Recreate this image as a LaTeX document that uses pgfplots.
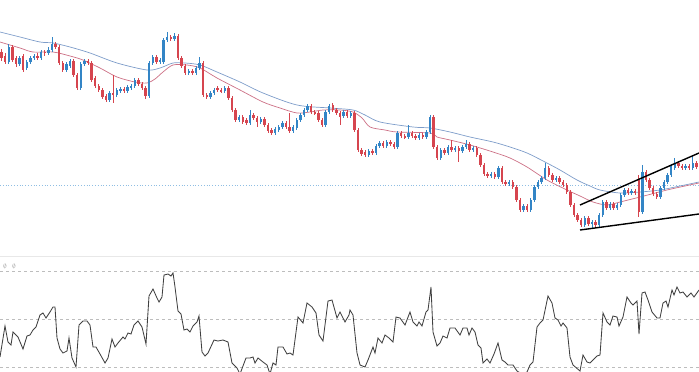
\documentclass[border=0pt]{standalone}
\usepackage{pgfplots}
\usepackage{pgfplotstable}
\pgfplotsset{compat=1.18}
\definecolor{bullc}{HTML}{3385C6}
\definecolor{bearc}{HTML}{D6454F}
\definecolor{maslow}{HTML}{7D9CC9}
\definecolor{mafast}{HTML}{CC7085}
\definecolor{oscc}{HTML}{404040}
\definecolor{dotlc}{HTML}{8FBEE3}
\definecolor{gridc}{HTML}{BDBDBD}
\definecolor{sepc}{HTML}{E8E8E8}

\pgfplotstableread{
o c h l
52 58 49 61
56 62 53 64
62 47 44 64
47 60 45 62
58 64 56 67
64 58 56 66
56 70 54 72
68 62 60 70
62 58 56 64
58 56 54 60
56 58 53 60
58 52 50 60
52 53 50 56
53 50 47 55
50 44 37 52
44 47 42 49
47 63 45 65
63 70 61 72
70 64 62 72
66 61 59 68
61 75 59 77
75 88 73 90
88 64 62 90
64 61 59 66
61 63 59 65
63 80 61 82
78 86 76 88
86 90 84 92
90 97 88 99
96 100 94 102
100 93 91 102
93 95 75 103
95 90 88 97
91 89 87 93
89 91 87 93
91 87 85 93
88 86 84 90
86 80 78 88
80 84 78 86
84 88 82 90
88 96 86 99
96 63 61 98
63 57 55 65
57 62 55 64
62 60 58 64
62 40 38 64
40 37 32 42
37 39 35 41
39 36 33 41
36 58 34 60
58 66 56 68
66 73 64 75
73 71 69 75
71 73 69 75
73 68 66 75
68 63 57 70
63 95 61 97
95 97 93 99
97 93 91 99
93 90 88 95
88 90 86 92
90 91 88 93
91 88 86 93
88 98 86 100
98 110 96 112
110 120 108 122
120 117 115 122
117 122 115 124
120 123 118 125
123 115 110 125
115 118 113 120
118 122 116 127
122 119 117 124
119 125 117 127
125 131 123 133
130 133 128 135
133 129 127 135
130 127 125 132
127 123 121 129
123 127 121 129
127 131 113 133
131 127 125 133
128 120 118 130
120 115 113 122
115 110 108 117
110 106 104 112
106 112 104 114
112 113 110 115
113 120 111 122
120 125 118 127
125 112 110 127
112 106 104 114
105 110 103 112
110 113 108 115
113 117 111 125
116 112 110 118
112 116 110 118
116 113 111 118
113 130 111 132
130 150 128 152
150 154 148 156
152 155 150 157
155 151 149 157
151 153 149 155
153 146 144 155
146 143 141 148
143 146 141 148
146 142 140 148
142 144 140 146
144 147 142 149
147 133 131 149
133 136 131 138
136 137 134 139
137 133 125 139
133 136 131 138
136 138 134 140
138 135 133 140
135 137 133 139
137 132 130 139
132 117 115 134
117 147 115 149
147 158 145 160
158 150 148 160
150 153 148 155
153 147 145 155
147 150 140 152
150 148 146 152
148 151 146 162
151 147 145 153
147 144 140 149
144 150 142 152
150 148 146 152
148 155 146 157
155 165 153 167
165 174 163 176
174 176 172 178
176 174 172 178
174 177 172 179
177 168 166 179
168 182 166 184
182 184 180 186
184 182 180 186
182 187 180 189
187 200 185 202
200 210 198 212
210 206 204 212
206 210 204 212
210 200 198 212
200 187 185 202
187 182 180 189
182 178 176 184
178 168 163 180
168 175 166 177
175 180 173 182
180 178 176 182
178 182 176 184
182 185 180 187
185 192 183 194
192 205 190 207
205 215 203 217
215 220 213 222
220 225 218 227
225 218 216 227
218 224 216 226
224 222 220 229
222 225 220 227
225 215 213 227
215 202 200 217
202 208 200 210
208 204 202 210
204 208 202 210
208 205 203 210
205 195 193 207
195 190 188 197
190 193 188 195
193 191 189 195
191 193 189 195
180 212 175 217
212 172 165 214
172 180 170 182
180 188 178 190
188 194 186 196
194 197 192 199
197 188 186 199
188 182 180 190
182 175 173 184
175 166 164 177
168 163 158 170
163 166 161 168
166 168 164 170
168 166 164 170
166 168 164 170
168 163 155 170
163 167 161 169
}\candles

\begin{document}
\begin{tikzpicture}
\begin{axis}[
  width=699bp, height=372bp, scale only axis,
  xmin=0, xmax=699, ymin=0, ymax=372,
  y dir=reverse, hide axis,
  unbounded coords=discard,
  candle/.style={draw=none, mark=none, forget plot,
    error bars/.cd, y dir=both, y explicit, error mark=none},
]
% separator and reference lines
\addplot[sepc, line width=0.8bp] coordinates {(0,256) (699,256)};
\addplot[dotlc, line width=0.8bp, dotted] coordinates {(0,185) (699,185)};
\addplot[gridc, line width=0.7bp, dash pattern=on 3bp off 3bp] coordinates {(0,271) (699,271)};
\addplot[gridc, line width=0.7bp, dash pattern=on 3bp off 3bp] coordinates {(0,319) (699,319)};
\addplot[gridc, line width=0.7bp, dash pattern=on 3bp off 3bp] coordinates {(0,367) (699,367)};

% moving averages
\addplot[maslow, line width=0.7bp, smooth] coordinates {
(0,32)(20,37)(40,42)(53,43)(70,47)(90,53)(117,63)(147,70)(160,68)(173,63)(185,63)(200,65)(217,72)(240,82)(263,93)(297,105)(330,108)(353,110)(365,115)(380,122)(413,127)(430,128)(450,132)(470,137)(493,142)(510,147)(527,153)(545,162)(560,170)(577,180)(590,186)(600,190)(620,193)(640,192)(660,190)(680,186)(699,182)};
\addplot[mafast, line width=0.7bp, smooth] coordinates {
(0,42)(20,48)(33,52)(53,52)(70,56)(83,60)(100,68)(117,77)(135,82)(147,83)(155,79)(163,72)(173,65)(187,65)(200,68)(217,78)(240,90)(263,102)(280,108)(297,113)(310,112)(323,110)(340,110)(353,112)(362,118)(370,127)(385,130)(397,132)(430,133)(437,137)(450,140)(470,145)(493,152)(510,158)(527,167)(547,180)(567,190)(580,196)(593,202)(607,205)(620,202)(640,197)(667,190)(685,186)(699,183)};

% candle wicks
\addplot[candle, error bar style={draw=bullc, solid, line width=0.7bp}]
  table[x expr=1.5+3.6*\coordindex,
        y expr={\thisrow{c}<\thisrow{o} ? (\thisrow{h}+\thisrow{l})/2 : nan},
        y error expr={(\thisrow{l}-\thisrow{h})/2}] {\candles};
\addplot[candle, error bar style={draw=bearc, solid, line width=0.7bp}]
  table[x expr=1.5+3.6*\coordindex,
        y expr={\thisrow{c}>\thisrow{o} ? (\thisrow{h}+\thisrow{l})/2 : nan},
        y error expr={(\thisrow{l}-\thisrow{h})/2}] {\candles};
% candle bodies
\addplot[candle, error bar style={draw=bullc, solid, line width=2.4bp}]
  table[x expr=1.5+3.6*\coordindex,
        y expr={\thisrow{c}<\thisrow{o} ? (\thisrow{o}+\thisrow{c})/2 : nan},
        y error expr={max(abs(\thisrow{o}-\thisrow{c})/2,0.6)}] {\candles};
\addplot[candle, error bar style={draw=bearc, solid, line width=2.4bp}]
  table[x expr=1.5+3.6*\coordindex,
        y expr={\thisrow{c}>\thisrow{o} ? (\thisrow{o}+\thisrow{c})/2 : nan},
        y error expr={max(abs(\thisrow{o}-\thisrow{c})/2,0.6)}] {\candles};

% trend lines
\addplot[black, line width=1.4bp] coordinates {(580,205) (699,153)};
\addplot[black, line width=1.4bp] coordinates {(580,230) (699,214)};

% oscillator
\addplot[oscc, line width=0.85bp] coordinates {
(0,357)(5,326)(8,342)(11,345)(13,332)(18,337)(23,349)(27,336)(30,335)(33,330)(36,327)(40,315)(43,313)(46,318)(50,312)(53,307)(55,307)(57,338)(60,349)(63,353)(67,351)(69,338)(72,358)(76,367)(79,325)(83,321)(87,321)(90,325)(93,347)(96,347)(100,354)(105,363)(108,358)(112,339)(115,347)(118,343)(123,337)(125,339)(128,333)(131,334)(134,325)(138,321)(142,327)(146,344)(149,296)(153,289)(157,298)(159,302)(162,297)(164,275)(168,274)(171,276)(173,273)(175,287)(178,311)(181,314)(184,330)(187,329)(190,332)(193,326)(197,322)(199,316)(202,352)(205,356)(208,353)(214,340)(218,341)(223,340)(228,342)(232,363)(237,368)(240,374)(246,358)(250,358)(253,357)(255,363)(258,358)(263,362)(267,365)(270,374)(273,363)(276,365)(278,347)(283,347)(287,354)(290,353)(293,355)(298,317)(303,323)(307,303)(312,307)(316,313)(319,335)(323,341)(328,301)(332,300)(337,318)(340,312)(345,322)(349,315)
(350,310)(353,315)(357,353)(360,365)(365,367)(368,360)(373,347)(375,353)(378,338)(382,343)(385,335)(389,338)(393,342)(396,317)(400,318)(405,325)(410,312)(413,322)(417,326)(419,322)(422,326)(426,312)(428,310)(431,287)(433,332)(437,346)(440,343)(443,336)(447,338)(450,328)(455,328)(460,335)(463,328)(467,328)(469,335)(472,328)(475,332)(478,345)(481,348)(483,363)(487,359)(490,363)(494,354)(498,343)(502,360)(505,362)(508,365)(513,365)(517,371)(522,374)(527,372)(530,365)(533,362)(537,327)(540,323)(543,320)(548,296)(552,303)(555,318)(558,320)(561,326)(563,323)(567,328)(570,357)(573,365)(580,371)(583,355)(587,362)(590,363)(597,356)(600,355)(603,313)(607,322)(610,325)(613,316)(617,317)(619,326)(623,317)(627,297)(631,303)(633,305)(637,301)(639,334)(642,293)(645,292)(648,300)(652,312)(657,318)(660,318)(663,303)(666,301)(668,307)(672,290)(674,295)(677,287)(680,293)(683,292)(687,297)(691,293)(694,297)(699,290)};

\node[font=\fontsize{6.5}{6.5}\selectfont, text=gray!80] at (axis cs:5,266) {$\emptyset$};
\node[font=\fontsize{6.5}{6.5}\selectfont, text=gray!80] at (axis cs:14,266) {$\emptyset$};
\end{axis}
\path (current axis.south west) rectangle (current axis.north east);
\end{tikzpicture}
\end{document}
